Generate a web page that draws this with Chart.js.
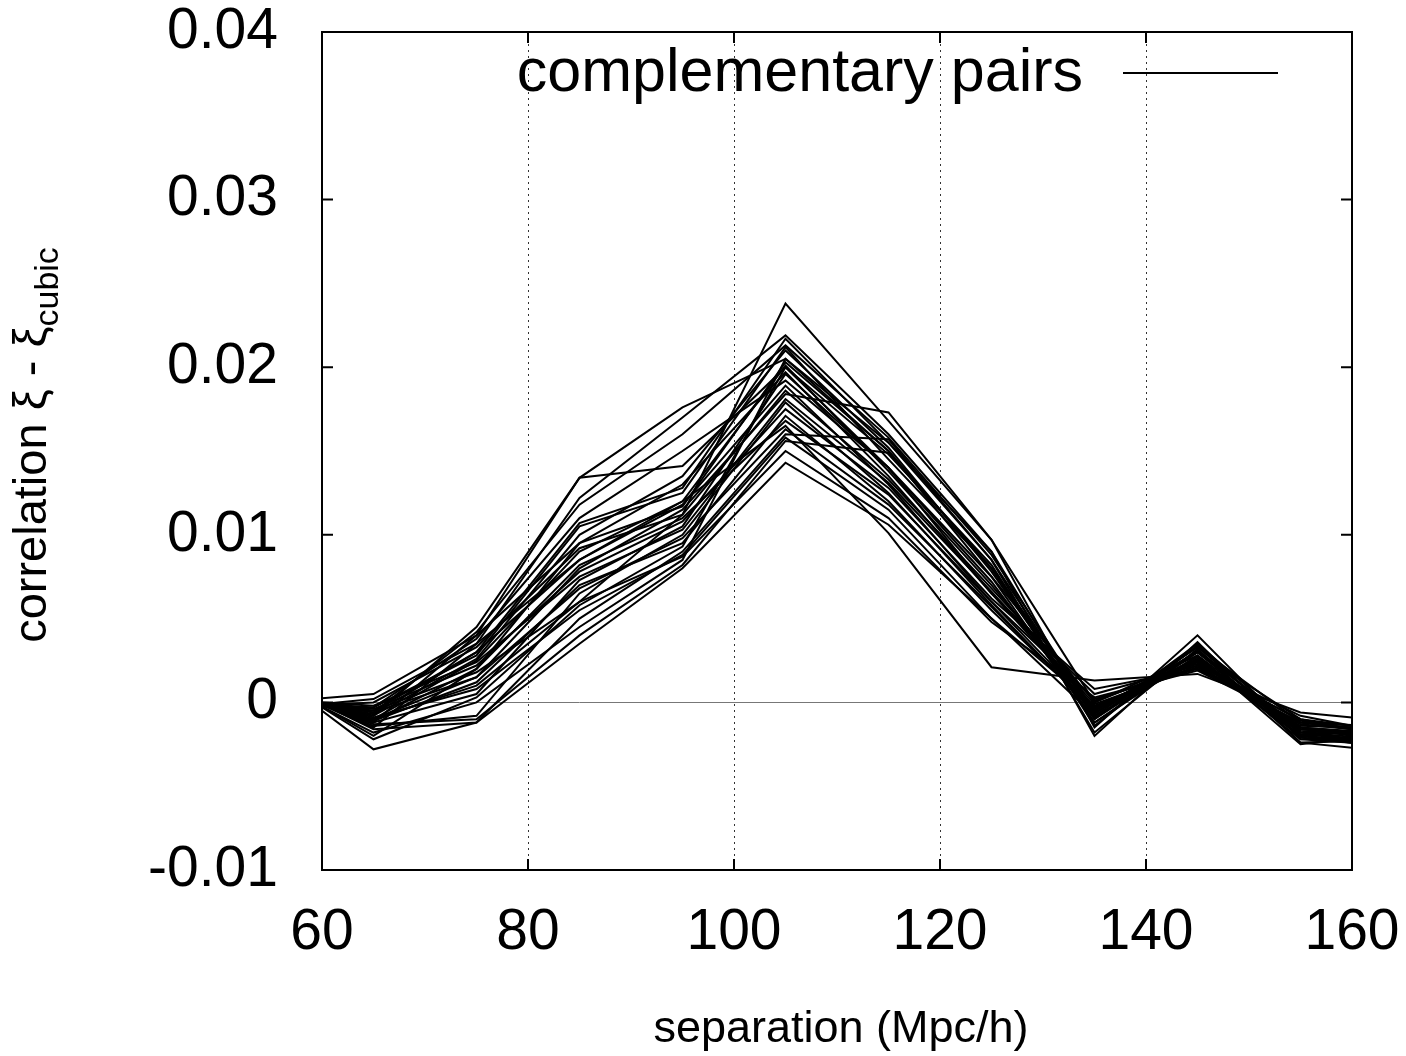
<!DOCTYPE html>
<html>
<head>
<meta charset="utf-8">
<script src="https://cdn.jsdelivr.net/npm/chart.js@4/dist/chart.umd.min.js"></script>
<style>
  html, body { margin: 0; padding: 0; background: #fff; }
  #wrap { width: 1406px; height: 1056px; }
</style>
</head>
<body>
<div id="wrap"><canvas id="corrChart" width="1406" height="1056"></canvas></div>
<script>
// separation bins (Mpc/h); 55 and 165 fall outside the axes and get clipped
const separations = [55, 65, 75, 85, 95, 105, 115, 125, 135, 145, 155, 165];

// xi - xi_cubic for each complementary pair
const pair01 = [0.0010, -0.0012, 0.0040, 0.0134, 0.0176, 0.0205, 0.0150, 0.0080, -0.0005, 0.0030, -0.0015, -0.0020];
const pair02 = [0.0005, -0.0008, 0.0045, 0.0134, 0.0141, 0.0200, 0.0140, 0.0075, 0.0000, 0.0025, -0.0020, -0.0015];
const pair03 = [0.0012, -0.0015, 0.0035, 0.0122, 0.0170, 0.0219, 0.0160, 0.0090, -0.0010, 0.0035, -0.0018, -0.0025];
const pair04 = [0.0003, -0.0005, 0.0030, 0.0107, 0.0128, 0.0217, 0.0155, 0.0085, -0.0008, 0.0033, -0.0012, -0.0018];
const pair05 = [0.0008, -0.0010, 0.0010, 0.0060, 0.0112, 0.0238, 0.0168, 0.0097, -0.0015, 0.0040, -0.0022, -0.0020];
const pair06 = [-0.0002, -0.0003, 0.0028, 0.0105, 0.0125, 0.0212, 0.0145, 0.0080, -0.0005, 0.0030, -0.0010, -0.0022];
const pair07 = [0.0015, -0.0020, 0.0020, 0.0095, 0.0117, 0.0203, 0.0150, 0.0075, -0.0012, 0.0028, -0.0025, -0.0018];
const pair08 = [0.0006, -0.0010, 0.0025, 0.0090, 0.0120, 0.0201, 0.0138, 0.0070, -0.0003, 0.0025, -0.0015, -0.0025];
const pair09 = [0.0000, 0.0005, 0.0040, 0.0095, 0.0130, 0.0197, 0.0135, 0.0065, 0.0005, 0.0022, -0.0008, -0.0020];
const pair10 = [0.0010, -0.0012, 0.0005, 0.0073, 0.0105, 0.0196, 0.0140, 0.0072, -0.0010, 0.0030, -0.0020, -0.0028];
const pair11 = [-0.0004, 0.0002, 0.0035, 0.0085, 0.0118, 0.0189, 0.0130, 0.0060, 0.0002, 0.0020, -0.0012, -0.0015];
const pair12 = [0.0004, -0.0006, 0.0015, 0.0080, 0.0115, 0.0184, 0.0173, 0.0097, 0.0000, 0.0028, -0.0018, -0.0020];
const pair13 = [0.0012, -0.0014, -0.0008, 0.0065, 0.0100, 0.0179, 0.0125, 0.0058, -0.0006, 0.0027, -0.0022, -0.0026];
const pair14 = [0.0002, -0.0004, 0.0022, 0.0078, 0.0108, 0.0175, 0.0128, 0.0062, 0.0008, 0.0020, -0.0010, -0.0018];
const pair15 = [0.0009, -0.0011, 0.0012, 0.0070, 0.0095, 0.0171, 0.0120, 0.0055, -0.0004, 0.0024, -0.0016, -0.0022];
const pair16 = [0.0018, -0.0028, -0.0012, 0.0050, 0.0090, 0.0160, 0.0157, 0.0085, -0.0018, 0.0032, -0.0024, -0.0030];
const pair17 = [0.0007, -0.0009, 0.0008, 0.0055, 0.0088, 0.0158, 0.0115, 0.0050, -0.0002, 0.0022, -0.0014, -0.0016];
const pair18 = [0.0011, -0.0013, -0.0010, 0.0040, 0.0082, 0.0156, 0.0149, 0.0080, -0.0012, 0.0030, -0.0020, -0.0024];
const pair19 = [0.0003, -0.0005, 0.0018, 0.0060, 0.0087, 0.0150, 0.0110, 0.0048, 0.0003, 0.0019, -0.0012, -0.0020];
const pair20 = [0.0014, -0.0016, -0.0012, 0.0035, 0.0080, 0.0143, 0.0106, 0.0050, -0.0008, 0.0025, -0.0020, -0.0026];
const pair21 = [0.0005, -0.0007, 0.0030, 0.0085, 0.0120, 0.0165, 0.0101, 0.0021, 0.0013, 0.0017, -0.0006, -0.0012];
const pair22 = [0.0001, -0.0003, 0.0038, 0.0110, 0.0150, 0.0192, 0.0140, 0.0065, -0.0003, 0.0026, -0.0015, -0.0019];
const pair23 = [0.0013, -0.0018, 0.0000, 0.0045, 0.0085, 0.0205, 0.0155, 0.0090, -0.0020, 0.0036, -0.0024, -0.0022];
const pair24 = [0.0006, -0.0008, 0.0026, 0.0100, 0.0135, 0.0210, 0.0152, 0.0078, -0.0009, 0.0031, -0.0017, -0.0021];
const pair25 = [-0.0003, 0.0000, 0.0033, 0.0092, 0.0112, 0.0186, 0.0133, 0.0068, 0.0001, 0.0023, -0.0011, -0.0017];
const pair26 = [0.0009, -0.0010, 0.0015, 0.0068, 0.0098, 0.0163, 0.0118, 0.0057, -0.0005, 0.0026, -0.0018, -0.0023];
const pair27 = [0.0016, -0.0022, 0.0003, 0.0058, 0.0093, 0.0200, 0.0148, 0.0082, -0.0014, 0.0034, -0.0021, -0.0027];
const pair28 = [0.0004, -0.0006, 0.0042, 0.0118, 0.0160, 0.0213, 0.0158, 0.0088, -0.0007, 0.0033, -0.0019, -0.0024];
const pair29 = [0.0008, -0.0011, 0.0020, 0.0082, 0.0110, 0.0168, 0.0124, 0.0060, -0.0004, 0.0024, -0.0016, -0.0020];
const pair30 = [0.0002, -0.0002, 0.0024, 0.0075, 0.0103, 0.0181, 0.0131, 0.0066, -0.0001, 0.0021, -0.0013, -0.0019];

const allPairs = [pair01, pair02, pair03, pair04, pair05, pair06, pair07, pair08, pair09, pair10,
                  pair11, pair12, pair13, pair14, pair15, pair16, pair17, pair18, pair19, pair20,
                  pair21, pair22, pair23, pair24, pair25, pair26, pair27, pair28, pair29, pair30];

const xTicks = [60, 80, 100, 120, 140, 160];
const yTicks = [-0.01, 0, 0.01, 0.02, 0.03, 0.04];
const gridX = [80, 100, 120, 140];
const legendLabel = 'complementary pairs';
const xTitle = 'separation (Mpc/h)';

const FONT = '"Liberation Sans", Arial, Helvetica, sans-serif';

// gnuplot-like frame: dotted x grid, zero line, inward ticks, box, legend, titles
const frame = {
    id: 'frame',
    beforeDatasetsDraw(chart) {
        const { ctx, chartArea: a, scales: { x, y } } = chart;
        ctx.save();
        ctx.lineWidth = 1;
        ctx.strokeStyle = '#333';
        ctx.setLineDash([2, 4]);
        gridX.forEach(v => {
            const px = Math.round(x.getPixelForValue(v)) + 0.5;
            ctx.beginPath();
            ctx.moveTo(px, a.top);
            ctx.lineTo(px, a.bottom);
            ctx.stroke();
        });
        ctx.setLineDash([]);
        ctx.strokeStyle = '#777';
        const py = Math.round(y.getPixelForValue(0)) + 0.5;
        ctx.beginPath();
        ctx.moveTo(a.left, py);
        ctx.lineTo(a.right, py);
        ctx.stroke();
        ctx.restore();
    },
    afterDatasetsDraw(chart) {
        const { ctx, chartArea: a, scales: { x, y } } = chart;
        const tl = 11;
        ctx.save();
        ctx.strokeStyle = '#000';
        ctx.lineWidth = 2;
        ctx.strokeRect(a.left, a.top, a.right - a.left, a.bottom - a.top);
        ctx.beginPath();
        xTicks.forEach(v => {
            const px = x.getPixelForValue(v);
            ctx.moveTo(px, a.bottom); ctx.lineTo(px, a.bottom - tl);
            ctx.moveTo(px, a.top); ctx.lineTo(px, a.top + tl);
        });
        yTicks.forEach(v => {
            const py = y.getPixelForValue(v);
            ctx.moveTo(a.left, py); ctx.lineTo(a.left + tl, py);
            ctx.moveTo(a.right, py); ctx.lineTo(a.right - tl, py);
        });
        ctx.stroke();

        // legend
        ctx.fillStyle = '#000';
        ctx.font = '61px ' + FONT;
        ctx.textAlign = 'right';
        ctx.textBaseline = 'middle';
        ctx.fillText(legendLabel, 1083, 74);
        ctx.lineWidth = 1.8;
        ctx.beginPath();
        ctx.moveTo(1123, 73);
        ctx.lineTo(1278, 73);
        ctx.stroke();

        // x title
        ctx.font = '45px ' + FONT;
        ctx.textAlign = 'center';
        ctx.fillText(xTitle, 841, 1030);

        // y title with subscript
        ctx.translate(46, 445);
        ctx.rotate(-Math.PI / 2);
        ctx.textAlign = 'left';
        ctx.textBaseline = 'alphabetic';
        const main = 'correlation \u03be - \u03be';
        const sub = 'cubic';
        ctx.font = '47px ' + FONT;
        const wMain = ctx.measureText(main).width;
        ctx.font = '34px ' + FONT;
        const wSub = ctx.measureText(sub).width;
        const x0 = -(wMain + wSub) / 2;
        ctx.font = '47px ' + FONT;
        ctx.fillText(main, x0, 0);
        ctx.font = '34px ' + FONT;
        ctx.fillText(sub, x0 + wMain, 12);
        ctx.restore();
    }
};

const noOverhang = scale => {
    scale.paddingTop = 0;
    scale.paddingBottom = 0;
    scale.paddingLeft = 0;
    scale.paddingRight = 0;
};

const ctx = document.getElementById('corrChart').getContext('2d');

const corrChart = new Chart(ctx, {
    type: 'line',
    data: {
        datasets: allPairs.map((vals, i) => ({
            label: 'pair ' + (i + 1),
            data: vals.map((v, j) => ({ x: separations[j], y: v })),
            borderColor: '#000',
            borderWidth: 2,
            pointRadius: 0,
            tension: 0,
            fill: false
        }))
    },
    options: {
        responsive: false,
        animation: false,
        layout: { padding: { top: 32, right: 54, left: 0, bottom: 0 } },
        plugins: {
            legend: { display: false },
            tooltip: { enabled: false }
        },
        scales: {
            x: {
                type: 'linear',
                min: 60,
                max: 160,
                afterFit: scale => { scale.height = 186; noOverhang(scale); },
                afterBuildTicks: scale => { scale.ticks = xTicks.map(v => ({ value: v })); },
                grid: { display: false },
                border: { display: false },
                ticks: {
                    color: '#000',
                    padding: 21,
                    maxRotation: 0,
                    font: { family: FONT, size: 57 }
                }
            },
            y: {
                min: -0.01,
                max: 0.04,
                afterFit: scale => { scale.width = 322; noOverhang(scale); },
                afterBuildTicks: scale => { scale.ticks = yTicks.map(v => ({ value: v })); },
                grid: { display: false },
                border: { display: false },
                ticks: {
                    color: '#000',
                    padding: 36,
                    font: { family: FONT, size: 57 },
                    callback: v => (Math.abs(v) < 1e-9 ? '0' : v.toFixed(2))
                }
            }
        }
    },
    plugins: [frame]
});
</script>
</body>
</html>
